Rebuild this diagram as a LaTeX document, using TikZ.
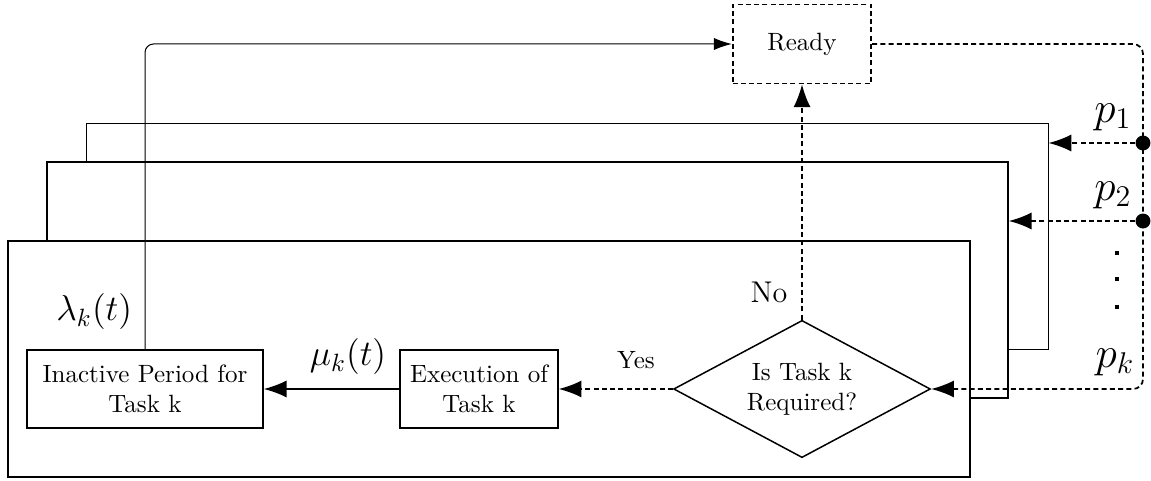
\documentclass[tikz,border=0pt]{standalone}
\usepackage{amsmath}
\usetikzlibrary{arrows.meta}
\usetikzlibrary{positioning}
\usetikzlibrary{shapes.geometric}
\usetikzlibrary{fit}

\tikzset{
  frame/.style={draw,fill=white,inner sep=0pt},
  block/.style={draw,semithick,align=center,minimum width=#1,minimum height=11mm,inner sep=2pt},
  flow/.style={line width=0.7pt,dash pattern=on 2pt off 1.3pt},
  bigarrow/.style={-{Latex[length=3.2mm,width=2.4mm]}},
  smallarrow/.style={-{Latex[length=2.5mm,width=1.7mm]}},
  rate/.style={font=\Large},
}

\begin{document}
\begin{tikzpicture}[x=0.1406mm,y=-0.1406mm]
  \useasboundingbox (0,0) rectangle (1151,481);

  % stacked frames, back to front
  \node[frame,fit={(86,124) (1048,350)}] (back) {};
  \node[frame,semithick,fit={(47,162) (1008,398)}] (mid) {};
  \node[frame,thick,fit={(8,241) (970,477)}] (front) {};

  \node[draw,flow,minimum width=19.5mm,minimum height=11.1mm] (ready) at (802,44) {Ready};
  \node[diamond,aspect=2,draw,semithick,align=center,minimum width=36.1mm,minimum height=19.3mm,inner sep=0pt] (req) at (802,389) {Is Task k\\Required?};
  \node[block=22.2mm] (exec) at (479,389) {Execution of\\Task k};
  \node[block=33.2mm] (inact) at (145,389) {Inactive Period for\\Task k};

  % transitions
  \draw[semithick,bigarrow] (exec) -- (inact);
  \draw[flow,bigarrow] (req) -- (exec);
  \draw[flow,bigarrow] (req) -- (ready);
  \draw[smallarrow,rounded corners=1.2mm] (inact.north) |- (ready.west);

  \coordinate (rail) at (1143,389);
  \draw[flow,bigarrow,rounded corners=1.4mm] (ready.east) -| (rail) -- (req.east);

  \foreach \n/\y/\f in {1/143/back,2/221/mid}{%
    \node[circle,fill,inner sep=0pt,minimum size=2.1mm] (p\n) at (1143,\y) {};
    \draw[flow,bigarrow] (p\n) -- (p\n -| \f.east);
  }
  \foreach \y in {253,279,307}{%
    \fill (1115,\y-2) rectangle ++(4,4);
  }

  % labels
  \node[font=\LARGE] (lab1) at (1113,117) {$p_1$};
  \node[font=\LARGE] (lab2) at (1113,195) {$p_2$};
  \node[font=\LARGE] (labk) at (1115,362) {$p_k$};
  \node[rate,anchor=east] (lam) at (141,312) {$\lambda_k(t)$};
  \node[rate] (mu) at (348,357) {$\mu_k(t)$};
  \node (yes) at (636,360) {Yes};
  \node[font=\large] (no) at (769,292) {No};
\end{tikzpicture}
\end{document}
